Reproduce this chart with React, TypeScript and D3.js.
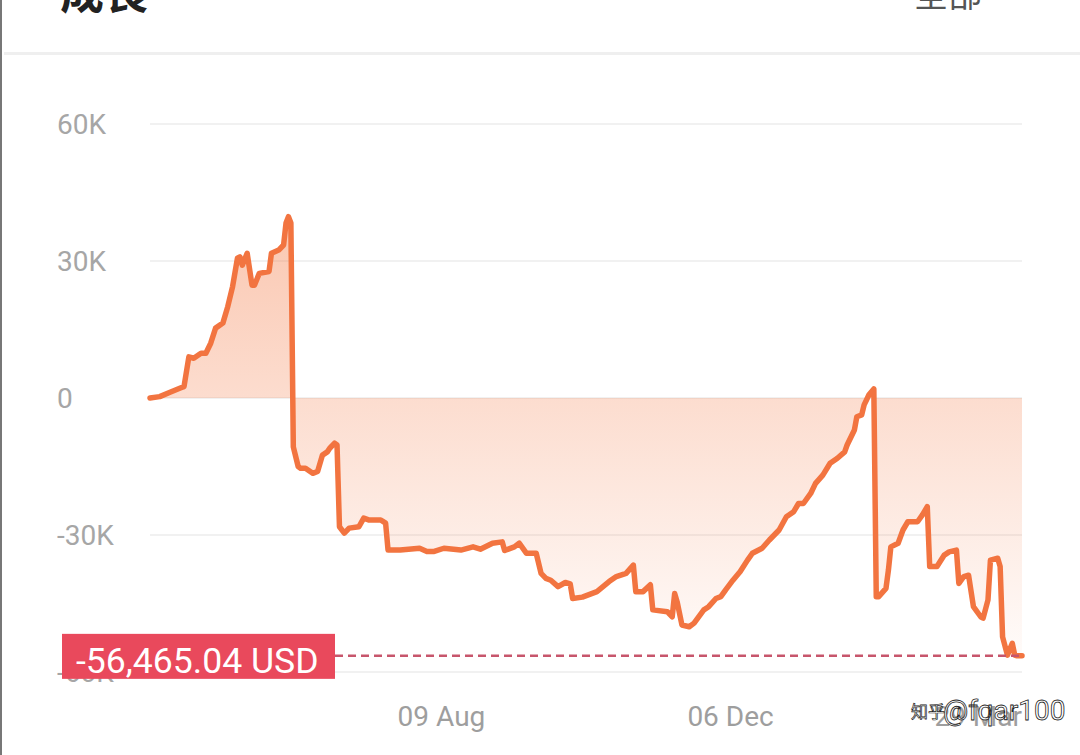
import React, { useEffect } from "react";
import * as d3 from "d3";

// daily equity curve, indexed in days from the first trading day
const startDate = new Date(2023, 3, 11);
const lastDay = 359;

const dayIndex = [
  0, 4, 8, 13, 14, 16, 18, 21, 23, 25,
  27, 30, 32, 34, 36, 37, 38, 40, 42, 43,
  45, 49, 50, 53, 55, 56, 57, 58, 59, 61,
  62, 64, 67, 69, 71, 73, 74, 76, 77, 78,
  80, 82, 86, 88, 90, 95, 97, 98, 103, 111,
  114, 117, 121, 128, 133, 136, 141, 145, 146, 150,
  152, 155, 159, 161, 163, 165, 168, 171, 173, 174,
  178, 184, 189, 192, 196, 199, 200, 203, 206, 207,
  213, 215, 216, 217, 219, 222, 224, 228, 230, 233,
  235, 237, 240, 243, 246, 248, 252, 255, 259, 262,
  265, 267, 269, 272, 274, 277, 280, 283, 286, 287,
  290, 291, 293, 294, 296, 298, 299, 300, 303, 304,
  305, 308, 310, 312, 316, 318, 320, 321, 324, 327,
  329, 332, 333, 335, 337, 339, 342, 343, 345, 346,
  349, 350, 351, 353, 355, 356, 357, 359,
];

const equity = [
  0, 300, 1200, 2300, 2500, 9000, 8700, 9800, 9800, 12000,
  15300, 16400, 20000, 24400, 30600, 30900, 29100, 31700, 24700, 24700,
  27300, 27700, 31700, 32400, 33500, 38300, 39700, 38300, -10700, -15000,
  -15400, -15400, -16500, -16100, -12500, -11800, -11000, -9900, -10300, -28200,
  -29600, -28500, -28200, -26300, -26700, -26700, -27400, -33300, -33300, -32900,
  -33600, -33600, -32900, -33300, -32600, -33100, -31800, -31500, -33400, -32600,
  -31800, -34000, -34000, -38400, -39500, -39900, -41300, -40400, -40700, -43900,
  -43600, -42400, -40200, -39100, -38400, -36600, -42400, -42400, -40900, -46400,
  -46800, -47900, -42800, -44600, -49700, -50100, -49300, -46400, -45700, -43900,
  -43500, -42000, -39900, -38000, -35500, -34000, -32900, -31100, -28900, -26000,
  -24900, -23100, -23100, -20900, -18700, -16900, -14300, -13200, -11800, -10300,
  -7000, -4100, -3700, -1500, 700, 2000, -43500, -43500, -41700, -37700,
  -32600, -31800, -28900, -27100, -27100, -25600, -23800, -36900, -36900, -34400,
  -33700, -33300, -40600, -39100, -38800, -45700, -47900, -48200, -44200, -35500,
  -35100, -36900, -52300, -56300, -53700, -56300, -56465, -56465.04,
];

const yTicks = [60000, 30000, 0, -30000, -60000];
const xTickDates = ["2023-08-09", "2023-12-06", "2024-03-29"];

const W = 1080;
const H = 755;
const plot = { left: 150, right: 1022, top: 124, bottom: 672 };
const font = "Roboto, 'Noto Sans CJK TC', sans-serif";

const App: React.FC = () => {
  useEffect(() => {
    document.body.style.margin = "0";
    document.body.style.overflow = "hidden";
  }, []);

  const data = dayIndex.map((d, i) => ({
    date: d3.timeDay.offset(startDate, d),
    value: equity[i],
  }));

  const x = d3
    .scaleTime()
    .domain([startDate, d3.timeDay.offset(startDate, lastDay)])
    .range([plot.left, plot.right]);

  const y = d3.scaleLinear().domain([-60000, 60000]).range([plot.bottom, plot.top]);

  const line = d3
    .line<{ date: Date; value: number }>()
    .x(d => x(d.date))
    .y(d => y(d.value));

  const area = d3
    .area<{ date: Date; value: number }>()
    .x(d => x(d.date))
    .y0(y(0))
    .y1(d => y(d.value));

  const last = equity[equity.length - 1];
  const yLast = y(last);
  const parse = d3.timeParse("%Y-%m-%d");
  const fmt = d3.timeFormat("%d %b");
  const yFmt = (v: number) => (v === 0 ? "0" : `${v / 1000}K`);
  const money = (v: number) => d3.format(",.2f")(v).replace("\u2212", "-");
  const maxY = y(d3.max(equity) as number);

  return (
    <svg width={W} height={H} style={{ position: "absolute", left: 0, top: 0, background: "#fff" }}>
      <defs>
        <linearGradient id="fillGrad" gradientUnits="userSpaceOnUse" x1="0" y1={maxY} x2="0" y2={yLast}>
          <stop offset="0%" stopColor="#f47a45" stopOpacity={0.42} />
          <stop offset="100%" stopColor="#f47a45" stopOpacity={0.03} />
        </linearGradient>
      </defs>
      <rect x={0} y={0} width={W} height={H} fill="#fff" />

      {/* header */}
      <text x={60} y={9} fontFamily="'Noto Sans CJK TC', sans-serif" fontWeight="bold" fontSize={44} fill="#222">
        成長
      </text>
      <text x={914} y={7} fontFamily="'Noto Sans CJK TC', sans-serif" fontSize={34} fill="#555">
        全部
      </text>
      <rect x={4} y={52} width={W - 4} height={3} fill="#efefef" />
      <rect x={0} y={0} width={2} height={H} fill="#777" />

      {/* grid + y labels */}
      {yTicks.map(t => (
        <g key={t}>
          <line x1={plot.left} x2={plot.right} y1={y(t)} y2={y(t)} stroke="#f1f1f1" strokeWidth={2} />
          <text x={57} y={y(t)} dy="0.35em" fontFamily={font} fontSize={28} fill="#a6a6a6">
            {yFmt(t)}
          </text>
        </g>
      ))}

      <path d={area(data) || ""} fill="url(#fillGrad)" />
      <path
        d={line(data) || ""}
        fill="none"
        stroke="#f27440"
        strokeWidth={5.5}
        strokeLinejoin="round"
        strokeLinecap="round"
      />

      {/* x labels */}
      {xTickDates.map(s => {
        const dt = parse(s) as Date;
        const label = fmt(dt);
        const px = x(dt);
        const half = label.length * 0.55 * 28 * 0.5;
        const clamp = px + half > plot.right;
        return (
          <text
            key={s}
            x={clamp ? plot.right : px}
            y={726}
            textAnchor={clamp ? "end" : "middle"}
            fontFamily={font}
            fontSize={28}
            fill="#9e9e9e"
          >
            {label}
          </text>
        );
      })}

      {/* last value marker */}
      <line
        x1={335}
        x2={plot.right}
        y1={yLast}
        y2={yLast}
        stroke="#c7566c"
        strokeWidth={2.5}
        strokeDasharray="8,5"
      />
      <rect x={62} y={yLast - 22} width={273} height={45} fill="#e9495c" />
      <text x={76} y={yLast + 17} fontFamily={font} fontSize={35.6} fill="#fff">
        {money(last)} USD
      </text>

      {/* watermark */}
      <text x={911} y={718} fontFamily="'Noto Sans CJK SC', sans-serif" fontSize={17} fill="#fff" stroke="#222" strokeWidth={0.7}>
        知乎
      </text>
      <text x={943} y={720} fontFamily={font} fontSize={28} fill="#fff" stroke="#222" strokeWidth={0.8}>
        @fqar100
      </text>
    </svg>
  );
};

export default App;
